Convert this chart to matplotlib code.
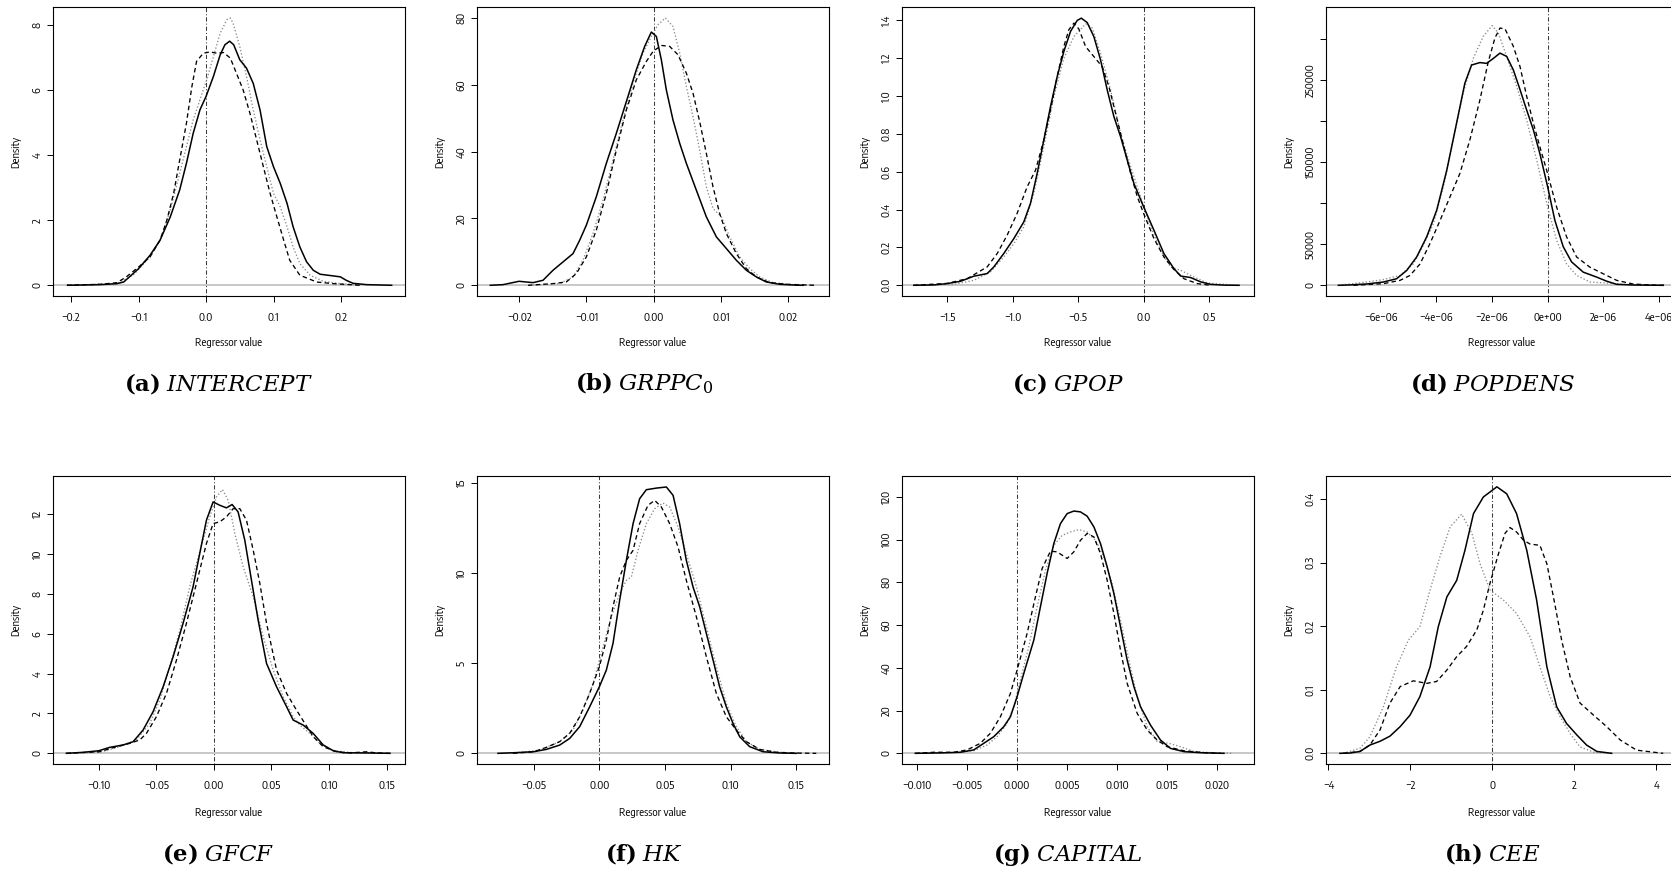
import matplotlib
matplotlib.use("Agg")
import matplotlib.pyplot as plt
from matplotlib import font_manager
from matplotlib.ticker import FixedLocator, FixedFormatter

# ---------------- data ----------------
# (a) INTERCEPT
a_sol_x = [-0.205,-0.157,-0.132,-0.122,-0.108,-0.100,-0.083,-0.068,-0.053,-0.039,-0.029,-0.019,-0.009,0.000,0.011,0.021,0.028,0.035,0.041,0.050,0.060,0.070,0.080,0.090,0.100,0.110,0.120,0.129,0.139,0.149,0.159,0.169,0.184,0.199,0.208,0.218,0.238,0.275]
a_sol_y = [0.00,0.02,0.05,0.10,0.36,0.51,0.92,1.39,2.10,2.93,3.75,4.67,5.39,5.80,6.42,7.08,7.39,7.50,7.39,6.93,6.67,6.20,5.39,4.26,3.64,3.13,2.52,1.80,1.18,0.72,0.46,0.34,0.30,0.26,0.15,0.06,0.02,0.00]
a_dsh_x = [-0.206,-0.157,-0.132,-0.118,-0.100,-0.083,-0.068,-0.058,-0.048,-0.039,-0.029,-0.021,-0.014,-0.004,0.006,0.016,0.026,0.036,0.045,0.055,0.065,0.075,0.085,0.095,0.105,0.115,0.124,0.139,0.164,0.189,0.213,0.228]
a_dsh_y = [0.00,0.03,0.08,0.26,0.56,0.87,1.39,2.00,2.82,3.85,4.98,6.10,6.88,7.13,7.17,7.13,7.15,6.98,6.52,6.00,5.29,4.47,3.64,2.82,2.10,1.39,0.77,0.31,0.10,0.05,0.02,0.00]
a_dot_x = [-0.206,-0.132,-0.108,-0.083,-0.068,-0.053,-0.039,-0.029,-0.019,-0.009,0.001,0.011,0.021,0.031,0.036,0.040,0.050,0.060,0.070,0.080,0.090,0.100,0.110,0.120,0.129,0.139,0.154,0.174,0.199,0.228]
a_dot_y = [0.00,0.05,0.31,0.87,1.39,2.31,3.44,4.26,5.08,5.70,6.31,7.03,7.75,8.16,8.21,8.06,7.34,6.42,5.39,4.47,3.64,2.82,2.41,1.80,1.18,0.67,0.31,0.12,0.05,0.01]

# (b) GRPPC_0
b_sol_x = [-0.02429,-0.02240,-0.02002,-0.01794,-0.01646,-0.01497,-0.01348,-0.01199,-0.01100,-0.01001,-0.00853,-0.00704,-0.00555,-0.00406,-0.00258,-0.00134,-0.00035,0.00040,0.00114,0.00188,0.00287,0.00387,0.00486,0.00634,0.00783,0.00932,0.01081,0.01229,0.01378,0.01527,0.01675,0.01874,0.02121,0.02221]
b_sol_y = [0,0.2,1.2,0.8,1.5,4.5,7,9.5,13.5,18,26.5,36.5,45.5,55,64.5,71.5,75.8,74.5,67.5,58.5,49.5,42.5,36.5,28.5,20.5,14.5,11,7.5,4.5,2.5,1,0.3,0.05,0]
b_dsh_x = [-0.01869,-0.01497,-0.01299,-0.01150,-0.01001,-0.00853,-0.00704,-0.00555,-0.00406,-0.00258,-0.00109,-0.00010,0.00114,0.00238,0.00362,0.00486,0.00585,0.00684,0.00783,0.00882,0.00981,0.01081,0.01229,0.01378,0.01527,0.01725,0.01973,0.02419]
b_dsh_y = [0,0.5,1,3.5,8.5,16.5,27.5,40.5,52.5,61.5,67,70,71.8,71.5,69,63.5,57.5,49,39.5,29.5,21.5,15.5,9.5,5,2.5,0.8,0.3,0]
b_dot_x = [-0.01844,-0.01398,-0.01199,-0.01051,-0.00902,-0.00753,-0.00605,-0.00456,-0.00307,-0.00159,-0.00035,0.00064,0.00173,0.00287,0.00387,0.00486,0.00585,0.00684,0.00783,0.00882,0.01006,0.01130,0.01279,0.01428,0.01576,0.01774,0.02072,0.02369]
b_dot_y = [0,0.5,2.5,7.5,15.5,25.5,37.5,49.5,60.5,69.5,74.5,78,80,77.5,69.5,59.5,50.5,40.5,29.5,23,20.5,14.5,8.5,5,2.5,0.8,0.2,0]

# (c) GPOP
c_sol_x = [-1.755,-1.603,-1.501,-1.399,-1.297,-1.195,-1.144,-1.068,-0.991,-0.915,-0.864,-0.813,-0.762,-0.711,-0.660,-0.609,-0.558,-0.507,-0.476,-0.431,-0.380,-0.329,-0.278,-0.227,-0.176,-0.125,-0.074,0.000,0.079,0.155,0.232,0.283,0.359,0.436,0.512,0.614,0.729]
c_sol_y = [0,0.002,0.009,0.021,0.048,0.062,0.097,0.168,0.247,0.335,0.433,0.591,0.768,0.945,1.103,1.236,1.342,1.400,1.412,1.389,1.315,1.192,1.033,0.892,0.786,0.662,0.538,0.415,0.291,0.168,0.088,0.049,0.041,0.018,0.005,0.001,0]
c_dsh_x = [-1.755,-1.501,-1.348,-1.195,-1.118,-1.042,-0.966,-0.889,-0.825,-0.762,-0.711,-0.660,-0.609,-0.571,-0.532,-0.494,-0.443,-0.380,-0.316,-0.265,-0.214,-0.163,-0.099,-0.048,0.000,0.079,0.155,0.232,0.308,0.410,0.512]
c_dsh_y = [0,0.01,0.035,0.097,0.168,0.265,0.38,0.521,0.609,0.768,0.927,1.103,1.262,1.351,1.386,1.354,1.262,1.209,1.156,1.05,0.909,0.768,0.591,0.468,0.38,0.247,0.15,0.083,0.035,0.009,0]
c_dot_x = [-1.755,-1.450,-1.297,-1.169,-1.068,-0.991,-0.915,-0.838,-0.762,-0.685,-0.609,-0.532,-0.482,-0.443,-0.392,-0.329,-0.252,-0.176,-0.099,-0.023,0.054,0.130,0.206,0.283,0.385,0.487,0.729]
c_dot_y = [0,0.005,0.026,0.071,0.15,0.22,0.309,0.486,0.733,0.998,1.2,1.315,1.351,1.382,1.36,1.227,1.033,0.803,0.627,0.468,0.309,0.185,0.097,0.079,0.044,0.012,0]

# (d) POPDENS
d_sol_x = [-7.51e-6,-7.09e-6,-6.50e-6,-5.90e-6,-5.42e-6,-5.06e-6,-4.70e-6,-4.34e-6,-3.98e-6,-3.62e-6,-3.27e-6,-2.97e-6,-2.73e-6,-2.43e-6,-2.19e-6,-1.95e-6,-1.71e-6,-1.47e-6,-1.23e-6,-0.99e-6,-0.75e-6,-0.51e-6,-0.28e-6,0.0,0.26e-6,0.56e-6,0.86e-6,1.28e-6,1.76e-6,2.12e-6,2.48e-6,3.07e-6,4.15e-6]
d_sol_y = [0,500,1600,4000,8000,18000,34500,59000,91500,140000,197000,246000,268000,271000,270000,276000,282500,278500,262000,238000,213000,189000,160500,120000,79000,47000,28500,16000,10000,5000,1200,400,0]
d_dsh_x = [-6.97e-6,-5.90e-6,-5.30e-6,-4.94e-6,-4.58e-6,-4.22e-6,-3.86e-6,-3.50e-6,-3.15e-6,-2.79e-6,-2.43e-6,-2.13e-6,-1.89e-6,-1.71e-6,-1.53e-6,-1.23e-6,-0.99e-6,-0.75e-6,-0.51e-6,-0.28e-6,0.0,0.32e-6,0.68e-6,1.04e-6,1.52e-6,2.00e-6,2.48e-6,3.07e-6,3.67e-6,4.21e-6]
d_dsh_y = [0,2000,6000,12000,26000,51000,79000,108000,136000,177000,225600,272000,301000,313000,312000,290700,266000,229700,197000,168700,136000,95500,59000,34500,22000,14000,6000,1600,400,0]
d_dot_x = [-7.51e-6,-6.50e-6,-5.90e-6,-5.30e-6,-4.82e-6,-4.46e-6,-4.10e-6,-3.74e-6,-3.39e-6,-3.03e-6,-2.67e-6,-2.31e-6,-1.99e-6,-1.77e-6,-1.47e-6,-1.11e-6,-0.75e-6,-0.39e-6,0.0,0.32e-6,0.68e-6,1.04e-6,1.52e-6,2.12e-6,2.72e-6,3.43e-6]
d_dot_y = [0,4000,7000,12000,26000,49000,75000,120000,177000,234000,276000,303000,316000,307000,278500,242000,201000,152000,95500,55000,26000,12000,4000,2800,1200,0]

# (e) GFCF
e_sol_x = [-0.1280,-0.1136,-0.0999,-0.0904,-0.0788,-0.0701,-0.0614,-0.0527,-0.0440,-0.0353,-0.0267,-0.0180,-0.0122,-0.0064,-0.0006,0.0052,0.0110,0.0159,0.0211,0.0269,0.0327,0.0385,0.0458,0.0545,0.0632,0.0689,0.0776,0.0863,0.0950,0.1037,0.1124,0.1327,0.1530]
e_sol_y = [0,0.05,0.13,0.3,0.42,0.58,1.17,2.09,3.34,4.85,6.52,8.36,10.03,11.7,12.62,12.45,12.32,12.49,12.12,10.7,8.69,6.69,4.51,3.34,2.34,1.67,1.42,1.0,0.42,0.13,0.03,0.02,0]
e_dsh_x = [-0.1280,-0.0991,-0.0846,-0.0730,-0.0643,-0.0585,-0.0498,-0.0411,-0.0324,-0.0238,-0.0151,-0.0064,-0.0006,0.0052,0.0110,0.0168,0.0226,0.0284,0.0342,0.0400,0.0458,0.0545,0.0632,0.0718,0.0791,0.0863,0.0950,0.1066,0.1182,0.1327,0.1414,0.1530]
e_dsh_y = [0,0.08,0.33,0.5,0.67,1.0,1.84,3.01,4.68,6.52,8.52,10.53,11.53,11.62,11.87,12.28,12.28,11.7,10.2,8.52,6.52,4.18,3.01,2.17,1.5,0.84,0.33,0.08,0.02,0.08,0.02,0]
e_dot_x = [-0.1280,-0.0991,-0.0817,-0.0672,-0.0556,-0.0469,-0.0382,-0.0295,-0.0209,-0.0151,-0.0093,-0.0035,0.0023,0.0075,0.0125,0.0183,0.0255,0.0342,0.0429,0.0516,0.0603,0.0689,0.0747,0.0834,0.0921,0.1037,0.1211,0.1501]
e_dot_y = [0,0.05,0.33,0.67,1.5,2.67,4.35,6.18,8.36,9.53,10.7,11.87,12.87,13.24,12.7,11.03,9.36,7.86,5.85,4.18,2.84,1.84,1.42,1.0,0.5,0.13,0.03,0]

# (f) HK
f_sol_x = [-0.0773,-0.0633,-0.0501,-0.0404,-0.0302,-0.0226,-0.0150,-0.0074,0.0000,0.0053,0.0104,0.0155,0.0206,0.0257,0.0307,0.0358,0.0435,0.0511,0.0562,0.0612,0.0663,0.0714,0.0765,0.0816,0.0867,0.0917,0.0968,0.1019,0.1070,0.1146,0.1248,0.1375,0.1502]
f_sol_y = [0,0.04,0.09,0.22,0.46,0.83,1.48,2.58,3.69,4.61,6.09,8.49,10.7,12.73,14.11,14.61,14.7,14.76,14.3,12.73,10.7,9.23,8.12,6.64,5.17,3.69,2.58,1.66,0.92,0.37,0.09,0.02,0]
f_dsh_x = [-0.0658,-0.0501,-0.0404,-0.0302,-0.0226,-0.0150,-0.0074,0.0000,0.0053,0.0104,0.0155,0.0206,0.0257,0.0307,0.0371,0.0422,0.0473,0.0536,0.0600,0.0663,0.0740,0.0816,0.0892,0.0968,0.1044,0.1121,0.1222,0.1349,0.1476,0.1654]
f_dsh_y = [0,0.09,0.33,0.65,1.11,2.03,3.32,4.8,6.27,8.12,9.78,10.7,11.25,12.73,13.75,14.02,13.65,12.73,11.44,9.59,7.56,5.35,3.32,2.03,1.29,0.65,0.22,0.06,0.02,0]
f_dot_x = [-0.0773,-0.0607,-0.0455,-0.0302,-0.0201,-0.0125,-0.0048,0.0028,0.0091,0.0155,0.0206,0.0244,0.0295,0.0358,0.0422,0.0485,0.0536,0.0600,0.0663,0.0740,0.0816,0.0892,0.0968,0.1044,0.1121,0.1222,0.1375,0.1553]
f_dot_y = [0,0.05,0.18,0.65,1.29,2.4,3.87,5.9,7.56,8.86,9.59,9.78,11.25,12.73,13.56,13.87,13.65,12.55,11.07,9.23,7.01,4.8,2.77,1.48,0.65,0.22,0.06,0]

# (g) CAPITAL
g_sol_x = [-0.01017,-0.00767,-0.00567,-0.00433,-0.00333,-0.00233,-0.00133,-0.00067,0.00000,0.00067,0.00167,0.00233,0.00300,0.00367,0.00433,0.00500,0.00567,0.00633,0.00700,0.00767,0.00833,0.00900,0.00967,0.01033,0.01100,0.01167,0.01233,0.01333,0.01433,0.01533,0.01667,0.01833,0.02067]
g_sol_y = [0,0.2,0.5,1.6,4.7,7.8,12.5,17.1,26.5,37.4,53,68.6,84.2,98.2,107.5,112.2,113.4,113,111,106,98.2,87.3,74.8,59.2,43.6,31.2,21.8,13.2,6.2,2.3,0.8,0.3,0]
g_dsh_x = [-0.01017,-0.00833,-0.00633,-0.00500,-0.00367,-0.00267,-0.00167,-0.00067,0.00000,0.00100,0.00183,0.00250,0.00333,0.00400,0.00500,0.00567,0.00633,0.00700,0.00767,0.00833,0.00900,0.00967,0.01033,0.01100,0.01200,0.01300,0.01400,0.01500,0.01667,0.01867,0.02033]
g_dsh_y = [0,0.5,0.5,1.6,4.7,9.4,17.1,28,39,56.1,73.2,86.5,94.6,94.3,91.2,94.3,99.7,102.9,101.3,93.5,81,65.5,48.3,32.7,18.7,10.9,6.2,3.1,1.2,0.3,0]
g_dot_x = [-0.01017,-0.00633,-0.00433,-0.00300,-0.00200,-0.00100,-0.00033,0.00033,0.00117,0.00200,0.00283,0.00367,0.00450,0.00533,0.00617,0.00700,0.00783,0.00867,0.00950,0.01033,0.01117,0.01200,0.01300,0.01400,0.01517,0.01633,0.01767,0.01967,0.02150]
g_dot_y = [0,0.3,1.2,3.9,7.8,14,21.8,34.3,49.9,68.6,85.7,97.4,102,103.6,104.7,103.6,99.7,91.9,79.5,62.3,43.6,26.5,12.5,5.5,4.7,3.1,0.8,0.3,0]

# (h) CEE
h_sol_x = [-3.72,-3.47,-3.23,-2.99,-2.74,-2.50,-2.25,-2.01,-1.77,-1.52,-1.32,-1.11,-0.87,-0.67,-0.46,-0.22,0.11,0.35,0.59,0.84,1.08,1.33,1.57,1.81,2.06,2.30,2.55,2.91]
h_sol_y = [0,0.0005,0.003,0.013,0.019,0.027,0.042,0.06,0.089,0.136,0.199,0.246,0.272,0.319,0.377,0.403,0.419,0.408,0.377,0.319,0.241,0.136,0.073,0.047,0.029,0.013,0.003,0]
h_dsh_x = [-3.64,-3.23,-2.99,-2.74,-2.50,-2.25,-1.93,-1.60,-1.36,-1.11,-0.87,-0.63,-0.38,-0.22,-0.06,0.15,0.31,0.43,0.59,0.76,0.92,1.16,1.33,1.49,1.69,1.90,2.14,2.47,2.79,3.12,3.52,4.17]
h_dsh_y = [0,0.003,0.013,0.037,0.079,0.105,0.114,0.11,0.113,0.131,0.152,0.168,0.194,0.225,0.267,0.314,0.346,0.355,0.348,0.335,0.329,0.327,0.298,0.246,0.178,0.12,0.079,0.06,0.042,0.021,0.005,0]
h_dot_x = [-3.64,-3.23,-2.99,-2.66,-2.34,-2.05,-1.77,-1.52,-1.28,-1.03,-0.75,-0.50,-0.30,-0.06,0.27,0.59,0.92,1.16,1.41,1.65,1.90,2.14,2.47,2.95]
h_dot_y = [0,0.008,0.026,0.073,0.136,0.178,0.199,0.257,0.309,0.356,0.376,0.346,0.298,0.257,0.241,0.22,0.183,0.136,0.089,0.058,0.031,0.01,0.002,0]

captions = [r"$\mathbf{(a)}\;INTERCEPT$", r"$\mathbf{(b)}\;GRPPC_0$", r"$\mathbf{(c)}\;GPOP$",
            r"$\mathbf{(d)}\;POPDENS$", r"$\mathbf{(e)}\;GFCF$", r"$\mathbf{(f)}\;HK$",
            r"$\mathbf{(g)}\;CAPITAL$", r"$\mathbf{(h)}\;CEE$"]

M = "\u2212"
x_ticks = [
    [-0.2, -0.1, 0.0, 0.1, 0.2],
    [-0.02, -0.01, 0.0, 0.01, 0.02],
    [-1.5, -1.0, -0.5, 0.0, 0.5],
    [-6e-6, -4e-6, -2e-6, 0.0, 2e-6, 4e-6],
    [-0.10, -0.05, 0.0, 0.05, 0.10, 0.15],
    [-0.05, 0.0, 0.05, 0.10, 0.15],
    [-0.010, -0.005, 0.0, 0.005, 0.010, 0.015, 0.020],
    [-4, -2, 0, 2, 4],
]
x_labels = [
    [M+"0.2", M+"0.1", "0.0", "0.1", "0.2"],
    [M+"0.02", M+"0.01", "0.00", "0.01", "0.02"],
    [M+"1.5", M+"1.0", M+"0.5", "0.0", "0.5"],
    [M+"6e"+M+"06", M+"4e"+M+"06", M+"2e"+M+"06", "0e+00", "2e"+M+"06", "4e"+M+"06"],
    [M+"0.10", M+"0.05", "0.00", "0.05", "0.10", "0.15"],
    [M+"0.05", "0.00", "0.05", "0.10", "0.15"],
    [M+"0.010", M+"0.005", "0.000", "0.005", "0.010", "0.015", "0.020"],
    [M+"4", M+"2", "0", "2", "4"],
]
y_ticks = [
    [0, 2, 4, 6, 8],
    [0, 20, 40, 60, 80],
    [0.0, 0.2, 0.4, 0.6, 0.8, 1.0, 1.2, 1.4],
    [0, 50000, 100000, 150000, 200000, 250000, 300000],
    [0, 2, 4, 6, 8, 10, 12],
    [0, 5, 10, 15],
    [0, 20, 40, 60, 80, 100, 120],
    [0.0, 0.1, 0.2, 0.3, 0.4],
]
y_labels = [
    ["0", "2", "4", "6", "8"],
    ["0", "20", "40", "60", "80"],
    ["0.0", "0.2", "0.4", "0.6", "0.8", "1.0", "1.2", "1.4"],
    ["0", "50000", "", "150000", "", "250000", ""],
    ["0", "2", "4", "6", "8", "10", "12"],
    ["0", "5", "10", "15"],
    ["0", "20", "40", "60", "80", "100", "120"],
    ["0.0", "0.1", "0.2", "0.3", "0.4"],
]
x_limits = [(-0.2267, 0.2948), (-0.02627, 0.02607), (-1.845, 0.843), (-7.955e-6, 4.68e-6),
            (-0.1396, 0.166), (-0.0933, 0.1751), (-0.0115, 0.02367), (-4.06, 4.53)]
y_limits = [(-0.329, 8.55), (-3.2, 83.3), (-0.0565, 1.471), (-13000, 338600),
            (-0.535, 13.92), (-0.59, 15.37), (-4.99, 129.8), (-0.01675, 0.436)]

series = [
    (a_sol_x, a_sol_y, a_dsh_x, a_dsh_y, a_dot_x, a_dot_y),
    (b_sol_x, b_sol_y, b_dsh_x, b_dsh_y, b_dot_x, b_dot_y),
    (c_sol_x, c_sol_y, c_dsh_x, c_dsh_y, c_dot_x, c_dot_y),
    (d_sol_x, d_sol_y, d_dsh_x, d_dsh_y, d_dot_x, d_dot_y),
    (e_sol_x, e_sol_y, e_dsh_x, e_dsh_y, e_dot_x, e_dot_y),
    (f_sol_x, f_sol_y, f_dsh_x, f_dsh_y, f_dot_x, f_dot_y),
    (g_sol_x, g_sol_y, g_dsh_x, g_dsh_y, g_dot_x, g_dot_y),
    (h_sol_x, h_sol_y, h_dsh_x, h_dsh_y, h_dot_x, h_dot_y),
]

# ---------------- styling ----------------
all_names = sorted({f.name for f in font_manager.fontManager.ttflist})
narrow = []
if "Liberation Sans Narrow" in all_names:
    narrow = ["Liberation Sans Narrow"]
else:
    narrow = [n for n in all_names if "Sans" in n and ("Narrow" in n or "Condensed" in n)]
if narrow:
    fam = [narrow[0], "Liberation Sans", "DejaVu Sans"]
    small = 8.0
else:
    fam = ["Liberation Sans", "DejaVu Sans"]
    small = 6.9
plt.rcParams["font.family"] = fam
plt.rcParams["mathtext.fontset"] = "dejavuserif"

W, H = 1671, 869
fig = plt.figure(figsize=(W / 100, H / 100), dpi=100)
fig.patch.set_facecolor("white")

lefts = [53, 477, 902, 1326]
aw = 352
tops = [7, 476]
ahs = [289, 288]
cap_x = [218, 644, 1068, 1492]
cap_y = [383, 854]
xlab_off = [47, 49]

for i in range(8):
    r, c = divmod(i, 4)
    L, T, Hh = lefts[c], tops[r], ahs[r]
    ax = fig.add_axes([L / W, 1 - (T + Hh) / H, aw / W, Hh / H])
    sx, sy, dx, dy, px, py = series[i]
    ax.axhline(0, color="#c4c4c4", lw=1.3, zorder=1)
    ax.axvline(0, color="#3a3a3a", lw=0.75, ls=(0, (1, 2, 4, 2)), zorder=2)
    ax.plot(sx, sy, color="black", lw=1.1, zorder=4, solid_joinstyle="round")
    ax.plot(dx, dy, color="black", lw=0.95, ls=(0, (3.4, 2.4)), zorder=4)
    ax.plot(px, py, color="#8a8a8a", lw=0.95, ls=(0, (1, 1.6)), zorder=3)
    ax.set_xlim(*x_limits[i])
    ax.set_ylim(*y_limits[i])
    ax.xaxis.set_major_locator(FixedLocator(x_ticks[i]))
    ax.xaxis.set_major_formatter(FixedFormatter(x_labels[i]))
    ax.yaxis.set_major_locator(FixedLocator(y_ticks[i]))
    ax.yaxis.set_major_formatter(FixedFormatter(y_labels[i]))
    ax.tick_params(axis="both", direction="out", length=4.3, width=0.7, labelsize=small,
                   colors="black")
    ax.tick_params(axis="x", pad=7)
    ax.tick_params(axis="y", pad=3)
    for lab in ax.get_yticklabels():
        lab.set_rotation(90)
        lab.set_va("center")
        lab.set_ha("right")
    for s in ax.spines.values():
        s.set_linewidth(0.8)
        s.set_color("black")
    fig.text((L + aw / 2) / W, 1 - (T + Hh + xlab_off[r]) / H, "Regressor value",
             ha="center", va="center", fontsize=small)
    fig.text((L - 37) / W, 1 - (T + Hh / 2) / H, "Density", rotation=90,
             ha="center", va="center", fontsize=small)
    fig.text(cap_x[c] / W, 1 - cap_y[r] / H, captions[i], ha="center", va="center",
             fontsize=16.5)

fig.savefig("out.png", dpi=100, facecolor="white")
